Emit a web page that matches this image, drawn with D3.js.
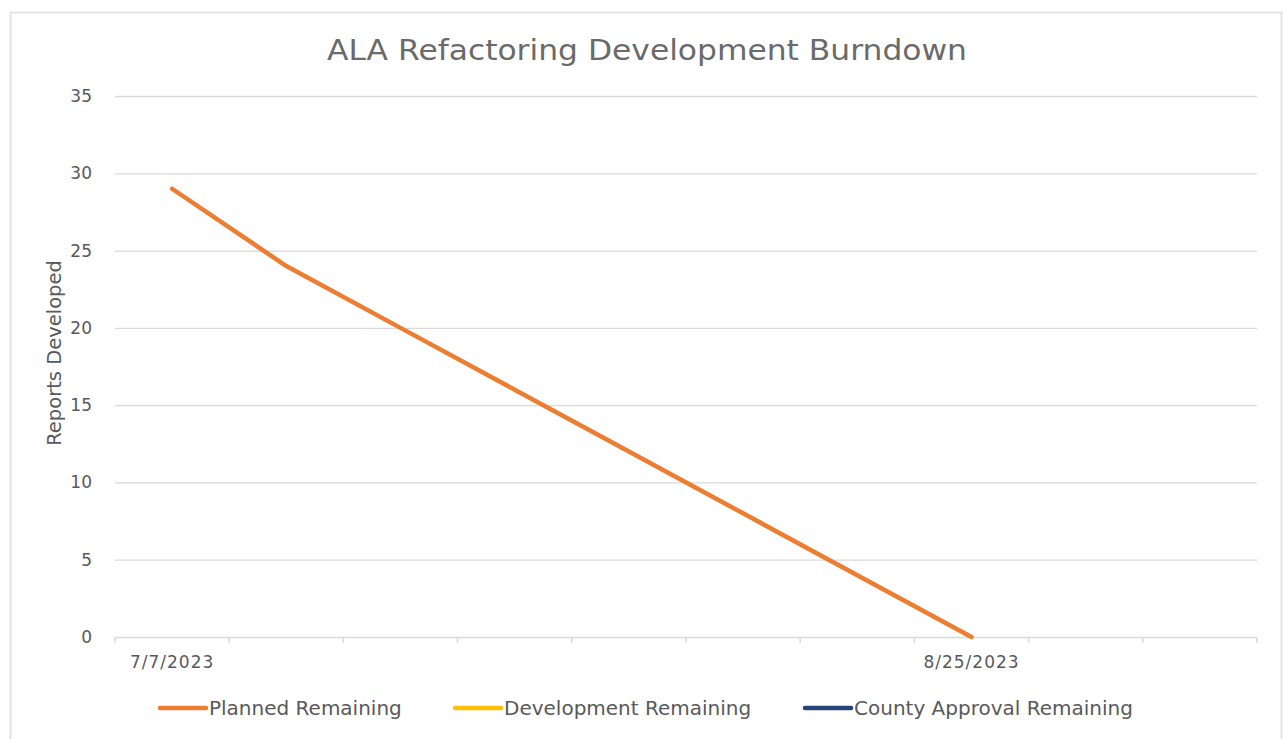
<!DOCTYPE html>
<html>
<head>
<meta charset="utf-8">
<script src="https://cdn.jsdelivr.net/npm/d3@7"></script>
<style>
  body { margin: 0; background: #fff; }
  text { font-family: "Century Gothic", "DejaVu Sans", sans-serif; fill: #595959; }
</style>
</head>
<body>
<div id="chart"></div>
<script>
// Weekly categories on the x axis
const categories = ["7/7/2023", "7/14/2023", "7/21/2023", "7/28/2023", "8/4/2023",
    "8/11/2023", "8/18/2023", "8/25/2023", "9/1/2023", "9/8/2023"];
// Only these category labels are shown
const tickLabels = ["7/7/2023", "8/25/2023"];
const yTicks = [0, 5, 10, 15, 20, 25, 30, 35];

// Series values (null = no data)
const plannedRemaining = [29, 24, 20, 16, 12, 8, 4, 0, null, null];
const developmentRemaining = [null, null, null, null, null, null, null, null, null, null];
const countyApprovalRemaining = [null, null, null, null, null, null, null, null, null, null];

const seriesNames = ["Planned Remaining", "Development Remaining", "County Approval Remaining"];
const seriesColors = ["#ED7D31", "#FFC000", "#264478"];
const seriesValues = [plannedRemaining, developmentRemaining, countyApprovalRemaining];

const W = 1283, H = 739;
const margin = { top: 96, right: 26, bottom: 102, left: 115 };
const width = W - margin.left - margin.right;
const height = H - margin.top - margin.bottom;

const root = d3.select("#chart").append("svg")
    .attr("width", W).attr("height", H);

// Chart area border
root.append("rect")
    .attr("x", 10.5).attr("y", 12.5)
    .attr("width", 1271).attr("height", 740)
    .attr("fill", "none")
    .attr("stroke", "#e3e3e3")
    .attr("stroke-width", 2);

// Title
root.append("text")
    .attr("x", 647).attr("y", 60)
    .attr("text-anchor", "middle")
    .attr("textLength", 640)
    .attr("lengthAdjust", "spacingAndGlyphs")
    .style("font-size", "29px")
    .style("fill", "#6a6a6a")
    .text("ALA Refactoring Development Burndown");

const svg = root.append("g")
    .attr("transform", `translate(${margin.left},${margin.top})`);

const xScale = d3.scaleBand().domain(categories).range([0, width]);
const yScale = d3.scaleLinear().domain([0, 35]).range([height, 0]);

// Gridlines
svg.append("g")
    .selectAll("line")
    .data(yTicks.filter(d => d > 0))
    .join("line")
    .attr("x1", 0).attr("x2", width)
    .attr("y1", d => yScale(d) + 0.5).attr("y2", d => yScale(d) + 0.5)
    .attr("stroke", "#d9d9d9")
    .attr("stroke-width", 1.3);

// Y axis labels
const yAxis = d3.axisLeft(yScale).tickValues(yTicks).tickSize(0).tickPadding(23);
const yg = svg.append("g").call(yAxis);
yg.select(".domain").remove();
yg.selectAll("text")
    .style("font-family", "'Century Gothic', 'DejaVu Sans', sans-serif")
    .style("font-size", "17px").style("fill", "#595959");

// X axis: tick marks between categories
const xg = svg.append("g").attr("transform", `translate(0,${height})`);
xg.append("line")
    .attr("x1", 0).attr("x2", width)
    .attr("y1", 0.5).attr("y2", 0.5)
    .attr("stroke", "#d9d9d9").attr("stroke-width", 1.5);
const boundaries = categories.map(c => xScale(c)).concat([width]);
xg.selectAll("line.tick")
    .data(boundaries)
    .join("line")
    .attr("class", "tick")
    .attr("x1", d => d).attr("x2", d => d)
    .attr("y1", 0).attr("y2", 6)
    .attr("stroke", "#d9d9d9").attr("stroke-width", 1.5);
xg.selectAll("text")
    .data(tickLabels)
    .join("text")
    .attr("x", d => xScale(d) + xScale.bandwidth() / 2)
    .attr("y", 31)
    .attr("text-anchor", "middle")
    .style("font-size", "17px")
    .style("letter-spacing", "1px")
    .text(d => d);

// Y axis title
root.append("text")
    .attr("transform", "translate(61,353) rotate(-90)")
    .attr("text-anchor", "middle")
    .style("font-size", "19.5px")
    .text("Reports Developed");

// Lines
const line = d3.line()
    .defined(d => d.v != null)
    .x(d => xScale(d.c) + xScale.bandwidth() / 2)
    .y(d => yScale(d.v));

seriesValues.forEach((vals, i) => {
    svg.append("path")
        .datum(categories.map((c, j) => ({ c: c, v: vals[j] })))
        .attr("fill", "none")
        .attr("stroke", seriesColors[i])
        .attr("stroke-width", 4.5)
        .attr("stroke-linecap", "round")
        .attr("stroke-linejoin", "round")
        .attr("d", line);
});

// Legend
const legendX = [160, 455, 805];
const legend = root.append("g");
seriesNames.forEach((name, i) => {
    legend.append("line")
        .attr("x1", legendX[i]).attr("x2", legendX[i] + 46)
        .attr("y1", 708).attr("y2", 708)
        .attr("stroke", seriesColors[i])
        .attr("stroke-width", 4.5)
        .attr("stroke-linecap", "round");
    legend.append("text")
        .attr("x", legendX[i] + 49).attr("y", 715)
        .style("font-size", "20px")
        .text(name);
});
</script>
</body>
</html>
